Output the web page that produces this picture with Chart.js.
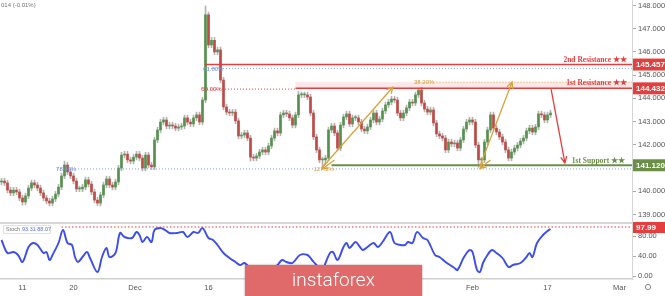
<!DOCTYPE html>
<html>
<head>
<meta charset="utf-8">
<script src="https://cdn.jsdelivr.net/npm/chart.js@4.4.1/dist/chart.umd.min.js"></script>
<style>
  html, body { margin: 0; padding: 0; background: #fff; }
  #wrap { position: relative; width: 665px; height: 296px; overflow: hidden; background: #fff; }
  #price { position: absolute; left: 0; top: 0; }
  #stoch { position: absolute; left: 0; top: 222px; }
  #mark {
    position: absolute; left: 245px; top: 265px; width: 177px; height: 40px;
    background: #e06a6a; box-shadow: 0 0 2px rgba(120, 30, 30, 0.5);
  }
  #mark span {
    position: absolute; left: 0; right: 0; top: 3px; text-align: center;
    font: 300 19px/24px Roboto, "Open Sans", sans-serif; color: #fff;
  }
</style>
</head>
<body>
<div id="wrap">
  <canvas id="price" width="665" height="222"></canvas>
  <canvas id="stoch" width="665" height="74"></canvas>
  <div id="mark"><span>instaforex</span></div>
</div>
<script>
// ---- data ----
const firstOpen = 140.40;
const closes = [
  140.44,140.36,140.05,139.93,140.05,139.97,139.71,139.54,139.80,140.14,
  140.36,140.27,140.14,139.93,139.71,139.58,139.49,139.67,139.88,140.18,
  140.66,141.13,140.83,140.66,140.44,140.10,140.10,140.18,140.49,140.31,
  139.97,139.62,139.49,139.84,140.27,140.53,140.27,140.18,140.40,141.00,
  141.56,141.60,141.35,141.30,141.47,141.60,141.43,141.00,141.56,141.13,
  141.05,142.21,142.64,142.98,143.07,142.81,142.85,142.81,142.72,142.77,
  142.81,143.16,142.98,142.90,143.16,143.29,142.98,143.93,147.60,146.30,
  146.50,146.00,146.09,144.79,143.63,143.41,143.37,143.41,143.03,142.38,
  142.42,142.51,142.29,141.47,141.43,141.52,141.69,141.78,141.69,141.95,
  142.29,142.60,142.51,143.29,143.37,143.33,143.16,142.85,143.29,144.15,
  144.15,144.15,144.06,143.37,142.34,141.78,141.35,141.35,141.43,142.64,
  142.81,142.51,141.86,142.85,143.20,143.33,142.90,143.16,143.16,142.98,
  142.68,142.60,142.77,143.07,143.37,142.98,143.11,143.46,143.72,143.84,
  143.97,143.93,143.37,143.16,143.37,143.59,143.84,143.80,144.15,144.36,
  143.80,143.54,143.41,143.50,142.94,142.47,142.38,142.29,141.78,142.12,
  142.04,142.08,141.86,142.21,142.68,142.98,143.07,142.98,141.99,141.35,
  141.35,142.12,142.64,143.29,142.72,142.55,142.34,142.12,141.78,141.43,
  141.69,141.86,141.99,142.16,142.29,142.60,142.72,142.55,142.77,143.33,
  143.29,143.07,143.29,143.37
];
// notable wick extremes, everything else gets a short wick
const wickHighs = { 21: 141.30, 68: 147.98, 99: 144.30, 139: 144.45 };
const wickLows = { 7: 139.40, 32: 139.38, 83: 141.30, 107: 141.05, 159: 141.03 };
const wickPad = 0.12;

const priceTicks = [139, 140, 141, 142, 143, 144, 145, 146, 147, 148];
const dateTickIdx = [7, 24, 44.5, 69, 157, 182, 206];
const dateLabels = ["11", "20", "Dec", "16", "Feb", "17", "Mar"];

const stochIdx = [0,2,4,5.5,7,9,10.5,12,14,15,16,17,19,20.5,22,23.5,24.5,25.5,27,28.5,
  29.5,32,33.5,35,36,38,39.5,41,43.5,45,46,47,48.5,50,51,53,54.5,56,58.5,60.5,
  62,64,65.5,67,69,70.5,72,74,76,78,79.5,81,83,86,89.5,92,93.5,95,97,99.5,
  102,103.5,105,107,108,109.5,110.5,112,114,115,116,118,119.5,120.5,122,124,125.5,127,129.5,131,
  133,134.5,135.5,137,138.5,140.5,142,144.5,146,148,149.5,151,152,154,156,157,158.5,159.5,160.5,162,
  163.5,165,167,169,170.5,173,175,176,177,178.5,180.5,182,183];
const stochVal = [72,46,48,42,28,58,66,62,46,48,32,42,66,92,66,62,38,28,38,48,
  36,8,38,56,38,46,86,78,76,88,82,68,78,68,92,96,92,86,86,88,
  78,88,86,96,76,72,62,46,36,28,22,26,16,8,12,22,32,28,26,42,
  42,32,22,12,26,46,48,32,58,66,56,68,58,52,58,66,58,68,88,66,
  62,62,68,66,88,76,72,42,38,28,22,16,12,36,52,48,12,8,26,42,
  52,46,36,18,22,26,38,46,38,66,82,90,94];

const res2 = 145.457, res1 = 144.432, sup1 = 141.120, stochMark = 97.99;
const fib618 = 145.29, fib50 = 144.40, fibTop = 144.70, fibBase = 140.96;

// ---- style ----
const UP = "#55924d", DOWN = "#bf4a46", WICK = "#b3b3b3";
const RED = "#e53e3e", GREEN = "#6b8f47", TAN = "#d9a23c", BLUE_DOT = "#7f9fe0";
const AXIS_FONT = { family: "Liberation Sans, Arial, sans-serif", size: 7.5 };
const X_MIN = -0.5, X_MAX = 210.17;

const bars = closes.map((c, i) => {
  const o = i === 0 ? firstOpen : closes[i - 1];
  const h = wickHighs[i] ?? Math.max(o, c) + wickPad;
  const l = wickLows[i] ?? Math.min(o, c) - wickPad;
  return { i, o, c, h, l };
});

function hline(ctx, x0, x1, y, color, width, dash) {
  ctx.save();
  ctx.strokeStyle = color;
  ctx.lineWidth = width;
  ctx.setLineDash(dash || []);
  ctx.beginPath();
  ctx.moveTo(x0, y);
  ctx.lineTo(x1, y);
  ctx.stroke();
  ctx.restore();
}

function arrow(ctx, x0, y0, x1, y1, color) {
  const ang = Math.atan2(y1 - y0, x1 - x0), s = 7;
  ctx.save();
  ctx.strokeStyle = color;
  ctx.lineWidth = 1.3;
  ctx.beginPath();
  ctx.moveTo(x0, y0);
  ctx.lineTo(x1, y1);
  ctx.moveTo(x1 - s * Math.cos(ang - 0.45), y1 - s * Math.sin(ang - 0.45));
  ctx.lineTo(x1, y1);
  ctx.lineTo(x1 - s * Math.cos(ang + 0.45), y1 - s * Math.sin(ang + 0.45));
  ctx.stroke();
  ctx.restore();
}

function tag(ctx, x, y, w, text, color) {
  ctx.save();
  ctx.fillStyle = color;
  ctx.fillRect(x, y - 6, w, 12);
  ctx.fillStyle = "#fff";
  ctx.font = "bold 8px Liberation Sans, Arial, sans-serif";
  ctx.textAlign = "left";
  ctx.textBaseline = "middle";
  ctx.fillText(text, x + 3, y + 0.5);
  ctx.restore();
}

function label(ctx, x, y, text, color, font, align) {
  ctx.save();
  ctx.fillStyle = color;
  ctx.font = font;
  ctx.textAlign = align || "left";
  ctx.textBaseline = "middle";
  ctx.fillText(text, x, y);
  ctx.restore();
}

const priceNotes = {
  id: "priceNotes",
  afterDatasetsDraw(chart) {
    const { ctx, chartArea: a, scales: { x, y } } = chart;
    const X = v => x.getPixelForValue(v), Y = v => y.getPixelForValue(v);
    const R = a.right;
    const smallFont = "6px Liberation Sans, Arial, sans-serif";
    const noteFont = "bold 7.5px Liberation Serif, serif";

    ctx.save();
    ctx.fillStyle = "rgba(240, 150, 150, 0.22)";
    ctx.fillRect(X(98), Y(fibTop), R - X(98), Y(res1) - Y(fibTop));
    ctx.restore();

    hline(ctx, X(18.5), R, Y(fibBase), BLUE_DOT, 1, [1, 2]);
    hline(ctx, X(67.8), R, Y(fib618), BLUE_DOT, 1, [1, 2]);
    hline(ctx, X(66.5), X(98), Y(fib50), RED, 1, [1, 2]);
    hline(ctx, X(138), R, Y(fibTop), TAN, 1, [1, 2]);
    hline(ctx, X(67.8), R, Y(res2), RED, 1.5);
    hline(ctx, X(98), R, Y(res1), RED, 1.5);
    hline(ctx, X(110), R, Y(sup1), GREEN, 1.8);

    label(ctx, X(67.2), Y(fib618) + 1, "61.80%", "#6c8fd6", smallFont);
    label(ctx, X(66.6), Y(fib50), "50.00%", RED, smallFont);
    label(ctx, X(137.5), Y(fibTop), "38.20%", TAN, smallFont);
    label(ctx, X(18.2), Y(fibBase), "78.60%", "#6c8fd6", smallFont);
    label(ctx, X(104), Y(fibBase) + 0.5, "127.2%", TAN, smallFont);

    arrow(ctx, X(106.8), Y(141.0), X(130.5), Y(144.49), TAN);
    arrow(ctx, X(159.5), Y(141.09), X(170.2), Y(144.71), TAN);
    arrow(ctx, X(183.2), Y(144.40), X(187.8), Y(141.22), RED);
    arrow(ctx, X(111), Y(141.35), X(106.8), Y(140.95), TAN);
    arrow(ctx, X(163), Y(141.35), X(159.5), Y(140.98), TAN);

    label(ctx, R - 5, Y(res2) - 4.5, "2nd Resistance \u2605\u2605", RED, noteFont, "right");
    label(ctx, R - 5, Y(res1) - 5.5, "1st Resistance \u2605\u2605", RED, noteFont, "right");
    label(ctx, R - 7, Y(sup1) - 4.5, "1st Support \u2605\u2605", GREEN, noteFont, "right");

    label(ctx, 1, 5, "014 (-0.01%)", "#777", "6px Liberation Sans, Arial, sans-serif");
  },
  afterDraw(chart) {
    const { ctx, chartArea: a, scales: { y } } = chart;
    tag(ctx, a.right + 1, y.getPixelForValue(res2), 32, res2.toFixed(3), RED);
    tag(ctx, a.right + 1, y.getPixelForValue(res1), 32, res1.toFixed(3), RED);
    tag(ctx, a.right + 1, y.getPixelForValue(sup1), 32, sup1.toFixed(3), GREEN);
  }
};

new Chart(document.getElementById("price"), {
  type: "bar",
  data: {
    datasets: [
      {
        data: bars.map(b => ({ x: b.i, y: [b.o, b.c] })),
        backgroundColor: bars.map(b => (b.c >= b.o ? UP : DOWN)),
        barThickness: 2,
        minBarLength: 1,
        grouped: false
      },
      {
        data: bars.map(b => ({ x: b.i, y: [b.l, b.h] })),
        backgroundColor: WICK,
        barThickness: 1,
        grouped: false
      }
    ]
  },
  options: {
    responsive: false,
    animation: false,
    events: [],
    layout: { padding: 0 },
    plugins: { legend: { display: false }, tooltip: { enabled: false } },
    scales: {
      x: { type: "linear", display: false, min: X_MIN, max: X_MAX, offset: false },
      y: {
        position: "right",
        min: 138.676,
        max: 148.237,
        afterBuildTicks: s => { s.ticks = priceTicks.map(v => ({ value: v })); },
        afterFit: s => { s.width = 33; s.paddingTop = 0; s.paddingBottom = 0; },
        ticks: { callback: v => Number(v).toFixed(3), font: AXIS_FONT, color: "#555", padding: 2 },
        grid: { drawOnChartArea: false, tickLength: 4, color: "#aaa" },
        border: { color: "#d5d5d5" }
      }
    }
  },
  plugins: [priceNotes]
});

const stochNotes = {
  id: "stochNotes",
  afterDatasetsDraw(chart) {
    const { ctx, chartArea: a, scales: { x, y } } = chart;
    hline(ctx, 0, a.right, 1, "#d6d6d6", 2);
    hline(ctx, x.getPixelForValue(20), a.right, y.getPixelForValue(stochMark), RED, 1.2, [1.5, 2]);
    ctx.save();
    ctx.strokeStyle = "#e2e2e2";
    ctx.strokeRect(3.5, 3.5, 47, 8);
    ctx.restore();
    label(ctx, 6, 7.8, "Stoch", "#777", "5.5px Liberation Sans, Arial, sans-serif");
    label(ctx, 22, 7.8, "93.31 88.07", "#5a6ef0", "5.5px Liberation Sans, Arial, sans-serif");
  },
  afterDraw(chart) {
    const { ctx, chartArea: a, scales: { y } } = chart;
    tag(ctx, a.right + 1, y.getPixelForValue(stochMark), 32, stochMark.toFixed(2), RED);
    ctx.save();
    ctx.strokeStyle = "#888";
    ctx.lineWidth = 1;
    ctx.beginPath();
    ctx.arc(648, 65, 2.6, 0, Math.PI * 2);
    ctx.stroke();
    ctx.restore();
  }
};

new Chart(document.getElementById("stoch"), {
  type: "line",
  data: {
    datasets: [{
      data: stochIdx.map((v, k) => ({ x: v, y: stochVal[k] })),
      borderColor: "#3b4cf2",
      borderWidth: 1.9,
      pointRadius: 0,
      tension: 0.35
    }]
  },
  options: {
    responsive: false,
    animation: false,
    events: [],
    layout: { padding: 0 },
    plugins: { legend: { display: false }, tooltip: { enabled: false } },
    scales: {
      x: {
        type: "linear",
        min: X_MIN,
        max: X_MAX,
        afterBuildTicks: s => { s.ticks = dateTickIdx.map(v => ({ value: v })); },
        afterFit: s => { s.height = 17; s.paddingLeft = 0; s.paddingRight = 0; },
        ticks: {
          callback: (v, i) => dateLabels[i],
          autoSkip: false, maxRotation: 0, padding: 4,
          font: { family: "Liberation Sans, Arial, sans-serif", size: 7.5 }, color: "#555"
        },
        grid: { display: false, drawTicks: false },
        border: { color: "#d0d0d0", width: 1.5 }
      },
      y: {
        position: "right",
        min: -6,
        max: 108,
        afterBuildTicks: s => { s.ticks = [0, 40, 80].map(v => ({ value: v })); },
        afterFit: s => { s.width = 33; s.paddingTop = 0; s.paddingBottom = 0; },
        ticks: { callback: v => Number(v).toFixed(2), font: AXIS_FONT, color: "#555", padding: 2 },
        grid: { drawOnChartArea: false, tickLength: 4, color: "#aaa" },
        border: { color: "#d5d5d5" }
      }
    }
  },
  plugins: [stochNotes]
});
</script>
</body>
</html>
